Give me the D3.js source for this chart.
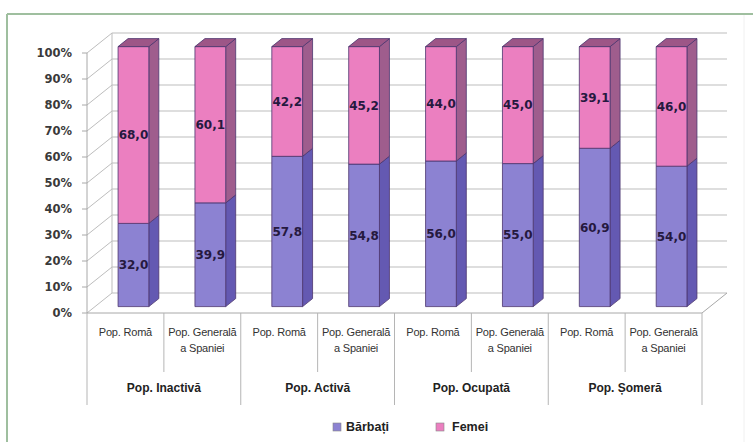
<!DOCTYPE html>
<html><head><meta charset="utf-8">
<script src="https://cdn.jsdelivr.net/npm/d3@7"></script>
<style>body{margin:0;background:#fff}svg{display:block}</style>
</head><body>
<svg id="c" width="753" height="442"></svg>
<script>
const categories = ["Pop. Romă","Pop. Generală|a Spaniei","Pop. Romă","Pop. Generală|a Spaniei","Pop. Romă","Pop. Generală|a Spaniei","Pop. Romă","Pop. Generală|a Spaniei"];
const groups = ["Pop. Inactivă","Pop. Activă","Pop. Ocupată","Pop. Șomeră"];
const barbati = [32.0, 39.9, 57.8, 54.8, 56.0, 55.0, 60.9, 54.0];
const femei   = [68.0, 60.1, 42.2, 45.2, 44.0, 45.0, 39.1, 46.0];
const yTicks = [0,10,20,30,40,50,60,70,80,90,100];
const seriesNames = ["Bărbați","Femei"];

const svg = d3.select("#c");
const DX = 25, DY = 20;
const x = d3.scaleBand().domain(d3.range(categories.length)).range([87, 702]).paddingInner(0.6).paddingOuter(0.3);
const y = d3.scaleLinear().domain([0,100]).range([313, 53]);
const P = (px, v, d) => [px + d*DX, y(v) - d*DY];
const line = d3.line();

// frame
svg.append("line").attr("x1",7).attr("y1",14).attr("x2",753).attr("y2",14).attr("stroke","#9fbf9f").attr("stroke-width",2);
svg.append("line").attr("x1",7).attr("y1",14).attr("x2",7).attr("y2",442).attr("stroke","#9fbf9f").attr("stroke-width",2);
svg.append("line").attr("x1",744).attr("y1",15).attr("x2",744).attr("y2",442).attr("stroke","#f0f0f0").attr("stroke-width",1);

const g = svg.append("g");
const gridC = "#bdbdbd";
const x0 = x.range()[0], x1 = x.range()[1];
// back wall gridlines + left wall diagonals
yTicks.forEach(v => {
  g.append("path").attr("d", line([P(x0,v,1), P(x1,v,1)])).attr("stroke",gridC).attr("fill","none");
  g.append("path").attr("d", line([P(x0,v,0), P(x0,v,1)])).attr("stroke",gridC).attr("fill","none");
});
g.append("path").attr("d", line([P(x0,0,1), P(x0,100,1)])).attr("stroke",gridC).attr("fill","none");
// floor
g.append("path").attr("d", line([P(x0,0,0), P(x1,0,0), P(x1,0,1)])).attr("stroke","#a8a8a8").attr("fill","none");
// front vertical axis
g.append("path").attr("d", line([P(x0,0,0), P(x0,100,0)])).attr("stroke","#a8a8a8").attr("fill","none");
yTicks.forEach(v => {
  g.append("line").attr("x1",x0-5).attr("x2",x0).attr("y1",y(v)).attr("y2",y(v)).attr("stroke","#a8a8a8");
  g.append("text").attr("x",72).attr("y",y(v)).attr("dy","0.35em").attr("text-anchor","end")
    .attr("font-family","DejaVu Sans").attr("font-weight","bold").attr("font-size",11.5).attr("fill","#3a3a3a").text(v+"%");
});

// bars
const d0 = 0.32, d1 = 0.72;
const cols = [
  {front:"#8c82d2", side:"#6459b2", top:"#6e63bb"},
  {front:"#eb7fc0", side:"#9f5d8d", top:"#9d5687"}
];
const edge = "#4b356f";
const poly = pts => "M" + pts.map(p=>p.join(",")).join("L") + "Z";
categories.forEach((c,i) => {
  const xl = x(i), xr = x(i)+x.bandwidth();
  const segs = [[0, barbati[i]], [barbati[i], barbati[i]+femei[i]]];
  segs.forEach((s,k) => {
    const [a,b] = s;
    g.append("path").attr("d", poly([P(xr,a,d0),P(xr,a,d1),P(xr,b,d1),P(xr,b,d0)]))
      .attr("fill",cols[k].side).attr("stroke",edge).attr("stroke-width",0.8);
    g.append("path").attr("d", poly([P(xl,a,d0),P(xr,a,d0),P(xr,b,d0),P(xl,b,d0)]))
      .attr("fill",cols[k].front).attr("stroke",edge).attr("stroke-width",0.8);
    if (k===1) {
      g.append("path").attr("d", poly([P(xl,b,d0),P(xr,b,d0),P(xr,b,d1),P(xl,b,d1)]))
        .attr("fill",cols[k].top).attr("stroke",edge).attr("stroke-width",0.8);
    }
    const cx = (xl+xr)/2 + d0*DX;
    const cy = y((a+b)/2) - d0*DY;
    g.append("text").attr("x",cx).attr("y",cy).attr("dy","0.35em").attr("text-anchor","middle")
      .attr("font-family","DejaVu Sans").attr("font-weight","bold").attr("font-size",12)
      .attr("fill","#26193f").text(((k===0)?barbati[i]:femei[i]).toFixed(1).replace(".",","));
  });
});

// category axis
const step = x.step();
for (let i=0;i<=categories.length;i++){
  const px = x0 + i*step;
  const bottom = (i%2===0) ? 405 : 372;
  g.append("line").attr("x1",px).attr("x2",px).attr("y1",313).attr("y2",bottom).attr("stroke","#b5b5b5");
}
categories.forEach((c,i) => {
  const cx = x0 + (i+0.5)*step;
  c.split("|").forEach((ln,j) => {
    g.append("text").attr("x",cx).attr("y",332+j*16).attr("dy","0.35em").attr("text-anchor","middle")
      .attr("font-family","Liberation Sans, Arial").attr("font-size",11).attr("letter-spacing",-0.2).attr("fill","#333").text(ln);
  });
});
groups.forEach((gname,i) => {
  const cx = x0 + (2*i+1)*step;
  g.append("text").attr("x",cx).attr("y",388).attr("dy","0.35em").attr("text-anchor","middle")
    .attr("font-family","Liberation Sans, Arial").attr("font-weight","bold").attr("font-size",12).attr("fill","#222").text(gname);
});

// legend
const leg = [{x:333, tx:346}, {x:436, tx:452}];
seriesNames.forEach((n,k) => {
  g.append("rect").attr("x",leg[k].x).attr("y",423).attr("width",8).attr("height",8)
    .attr("fill",cols[k].front).attr("stroke","#888").attr("stroke-width",0.6);
  g.append("text").attr("x",leg[k].tx).attr("y",427).attr("dy","0.35em")
    .attr("font-family","Liberation Sans, Arial").attr("font-weight","bold").attr("font-size",12.5).attr("fill","#222").text(n);
});
</script>
</body></html>
